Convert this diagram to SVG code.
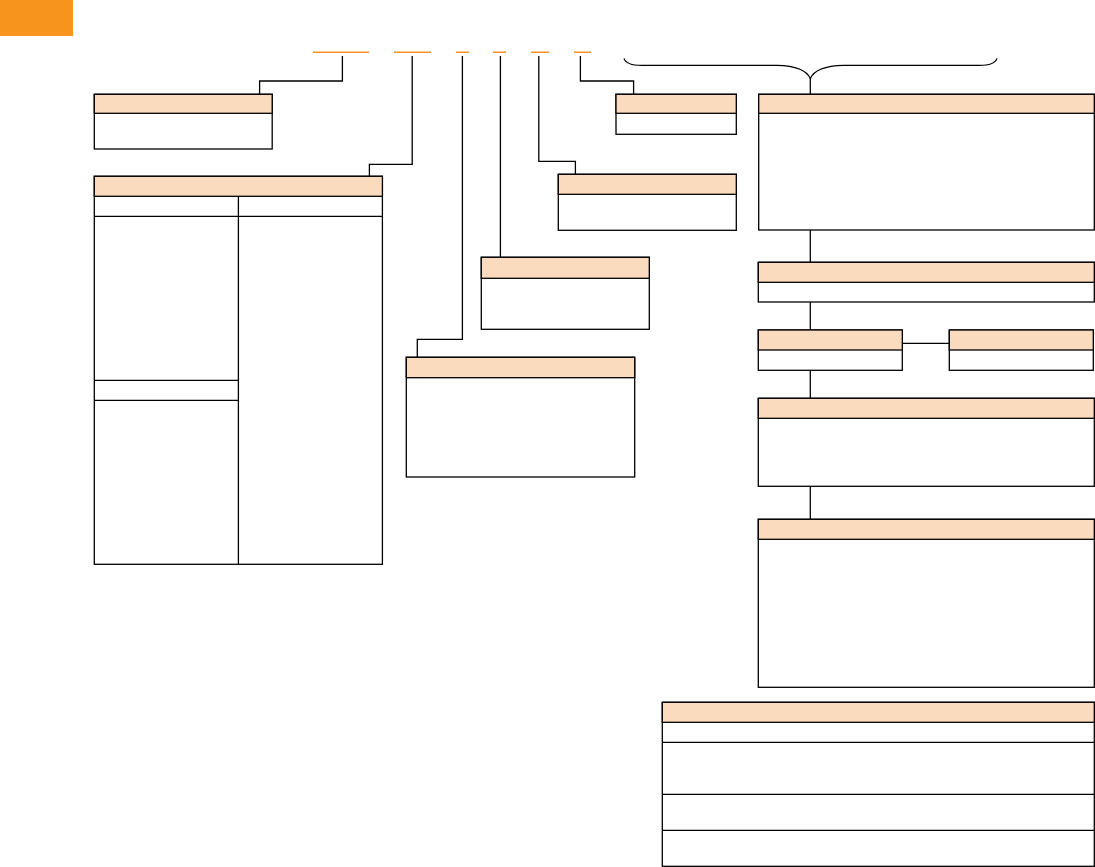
<svg xmlns="http://www.w3.org/2000/svg" width="1095" height="867" viewBox="0 0 1095 867">
<style>
.box{fill:#ffffff;stroke:#000000;stroke-width:1.3}
.hdr{fill:#FADBBD;stroke:#000000;stroke-width:1.3}
.ln{fill:none;stroke:#000000;stroke-width:1.3}
.ul{fill:none;stroke:#F7941D;stroke-width:1.4}
.br{fill:none;stroke:#000000;stroke-width:1.2}
</style>
<rect x="0" y="0" width="73" height="36" fill="#F7941D"/>
<g id="underlines">
<path class="ul" d="M313,52.3H369 M394,52.3H431 M456,52.3H469 M493,52.3H506 M531,52.3H549 M574,52.3H591"/>
</g>
<g id="connectors">
<path class="ln" d="M342.4,56V81H259.6V94.3"/>
<path class="ln" d="M412.2,56V164.3H369.4V176.3"/>
<path class="ln" d="M462.4,56V339.3H417.3V357.3"/>
<path class="ln" d="M500.4,56V257.3"/>
<path class="ln" d="M538.8,56V161.3H575.4V174.3"/>
<path class="ln" d="M580.4,56V81H633.6V94.3"/>
<path class="br" d="M624,58.3Q626,65.3 642,65.3H777Q805,66 810.3,78.5Q815.6,66 843.6,65.3H979Q995,65.3 997,58.3"/>
<path class="ln" d="M810.3,78V94.3"/>
<path class="ln" d="M810.3,230V262.3"/>
<path class="ln" d="M810.3,302V330"/>
<path class="ln" d="M902.3,343.3H949.3"/>
<path class="ln" d="M810.3,370.3V398.3"/>
<path class="ln" d="M810.3,486.3V519.3"/>
</g>
<g id="box1">
<rect class="box" x="94.3" y="94.3" width="177.9" height="54.7"/>
<rect class="hdr" x="94.3" y="94.3" width="177.9" height="19"/>
</g>
<g id="box2">
<rect class="box" x="94.3" y="176.3" width="288.1" height="388"/>
<rect class="hdr" x="94.3" y="176.3" width="288.1" height="20"/>
<path class="ln" d="M94.3,216.3H382.4 M238.4,196.3V564.3 M94.3,380.3H238.4 M94.3,400.3H238.4"/>
</g>
<g id="box3">
<rect class="box" x="406.3" y="357.3" width="228.4" height="119.7"/>
<rect class="hdr" x="406.3" y="357.3" width="228.4" height="20.4"/>
</g>
<g id="box4">
<rect class="box" x="481.3" y="257.3" width="168" height="72"/>
<rect class="hdr" x="481.3" y="257.3" width="168" height="21"/>
</g>
<g id="box5">
<rect class="box" x="558.3" y="174.3" width="178" height="56"/>
<rect class="hdr" x="558.3" y="174.3" width="178" height="20"/>
</g>
<g id="box6">
<rect class="box" x="616" y="94.3" width="120.3" height="40"/>
<rect class="hdr" x="616" y="94.3" width="120.3" height="19"/>
</g>
<g id="boxA">
<rect class="box" x="758.7" y="94.3" width="335.6" height="135.7"/>
<rect class="hdr" x="758.7" y="94.3" width="335.6" height="19"/>
</g>
<g id="boxB">
<rect class="box" x="758.3" y="262.3" width="336" height="39.7"/>
<rect class="hdr" x="758.3" y="262.3" width="336" height="20"/>
</g>
<g id="boxC1">
<rect class="box" x="758.3" y="330" width="144" height="40.3"/>
<rect class="hdr" x="758.3" y="330" width="144" height="20"/>
</g>
<g id="boxC2">
<rect class="box" x="949.3" y="330" width="144" height="40.3"/>
<rect class="hdr" x="949.3" y="330" width="144" height="20"/>
</g>
<g id="boxD">
<rect class="box" x="758.3" y="398.3" width="336" height="88"/>
<rect class="hdr" x="758.3" y="398.3" width="336" height="20"/>
</g>
<g id="boxE">
<rect class="box" x="758.3" y="519.3" width="336" height="168"/>
<rect class="hdr" x="758.3" y="519.3" width="336" height="20"/>
</g>
<g id="table">
<rect class="box" x="662.3" y="702.3" width="432" height="164"/>
<rect class="hdr" x="662.3" y="702.3" width="432" height="20"/>
<path class="ln" d="M662.3,742.3H1094.3 M662.3,794.3H1094.3 M662.3,830.3H1094.3"/>
</g>
</svg>
